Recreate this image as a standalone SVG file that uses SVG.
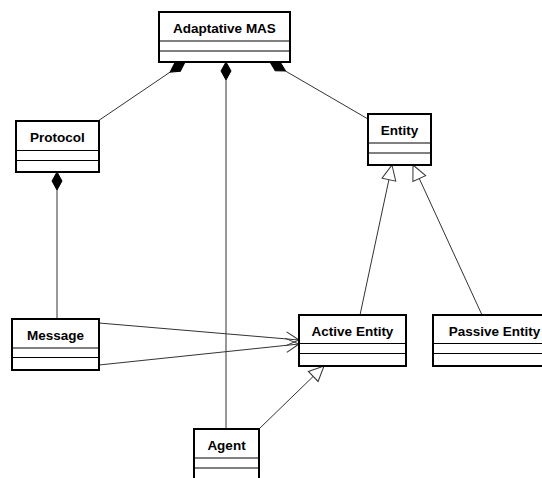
<svg xmlns="http://www.w3.org/2000/svg" width="542" height="478" viewBox="0 0 542 478">
<defs>
<style>
.box{fill:#fff;stroke:#000;stroke-width:2}
.div{stroke:#000;stroke-width:1}
.lbl{font-family:"Liberation Sans",Arial,sans-serif;font-weight:bold;font-size:13.5px;text-anchor:middle;fill:#000}
.con{stroke:#333;stroke-width:1;fill:none}
.dia{fill:#000;stroke:#000;stroke-width:1}
.tri{fill:#fff;stroke:#333;stroke-width:1}
.arr{fill:none;stroke:#333;stroke-width:1}
</style>
<polygon id="diamond" points="0,0 9,-5 18,0 9,5"/>
<polygon id="triangle" points="0,0 15,-7 15,7"/>
<polyline id="open" points="13,-7 0,0 13,7"/>
</defs>
<rect width="542" height="478" fill="#fff"/>
<g id="connectors">
<line class="con" x1="170.1" y1="72.1" x2="98" y2="121"/>
<use href="#diamond" class="dia" transform="translate(185,62) rotate(145.9)"/>
<line class="con" x1="226" y1="80" x2="226" y2="429"/>
<use href="#diamond" class="dia" transform="translate(226,62) rotate(90)"/>
<line class="con" x1="285.6" y1="71.1" x2="368" y2="119"/>
<use href="#diamond" class="dia" transform="translate(270,62) rotate(30.2)"/>
<line class="con" x1="57" y1="190" x2="57" y2="319"/>
<use href="#diamond" class="dia" transform="translate(57,172) rotate(90)"/>
<line class="con" x1="388.9" y1="179.7" x2="360" y2="315"/>
<use href="#triangle" class="tri" transform="translate(392,165) rotate(102)"/>
<line class="con" x1="419.3" y1="178.6" x2="482" y2="315"/>
<use href="#triangle" class="tri" transform="translate(413,165) rotate(65.3)"/>
<line class="con" x1="313.2" y1="376.4" x2="259" y2="429"/>
<use href="#triangle" class="tri" transform="translate(324,366) rotate(135.9)"/>
<line class="con" x1="99" y1="323" x2="299" y2="340"/>
<use href="#open" class="arr" transform="translate(299,340) rotate(184.9)"/>
<line class="con" x1="99" y1="365" x2="299" y2="344"/>
<use href="#open" class="arr" transform="translate(299,344) rotate(174)"/>
</g>
<g id="adaptative-mas">
<rect class="box" x="159" y="12" width="131" height="50"/>
<line class="div" x1="159" y1="41" x2="290" y2="41"/>
<line class="div" x1="159" y1="51" x2="290" y2="51"/>
<text class="lbl" x="224.5" y="33">Adaptative MAS</text>
</g>
<g id="protocol">
<rect class="box" x="16" y="121" width="83" height="51"/>
<line class="div" x1="16" y1="150.5" x2="99" y2="150.5"/>
<line class="div" x1="16" y1="160.5" x2="99" y2="160.5"/>
<text class="lbl" x="57.5" y="142">Protocol</text>
</g>
<g id="entity">
<rect class="box" x="368" y="114" width="63" height="51"/>
<line class="div" x1="368" y1="143" x2="431" y2="143"/>
<line class="div" x1="368" y1="153" x2="431" y2="153"/>
<text class="lbl" x="399.5" y="135">Entity</text>
</g>
<g id="message">
<rect class="box" x="12" y="319" width="87" height="51"/>
<line class="div" x1="12" y1="348" x2="99" y2="348"/>
<line class="div" x1="12" y1="357.5" x2="99" y2="357.5"/>
<text class="lbl" x="55.5" y="340">Message</text>
</g>
<g id="active-entity">
<rect class="box" x="299" y="315" width="107" height="51"/>
<line class="div" x1="299" y1="343.5" x2="406" y2="343.5"/>
<line class="div" x1="299" y1="353.5" x2="406" y2="353.5"/>
<text class="lbl" x="352.5" y="336">Active Entity</text>
</g>
<g id="passive-entity">
<rect class="box" x="433" y="315" width="123" height="51"/>
<line class="div" x1="433" y1="343.5" x2="556" y2="343.5"/>
<line class="div" x1="433" y1="353.5" x2="556" y2="353.5"/>
<text class="lbl" x="494.5" y="336">Passive Entity</text>
</g>
<g id="agent">
<rect class="box" x="194" y="429" width="65" height="60"/>
<line class="div" x1="194" y1="458" x2="259" y2="458"/>
<line class="div" x1="194" y1="468" x2="259" y2="468"/>
<text class="lbl" x="226.5" y="450">Agent</text>
</g>
</svg>
